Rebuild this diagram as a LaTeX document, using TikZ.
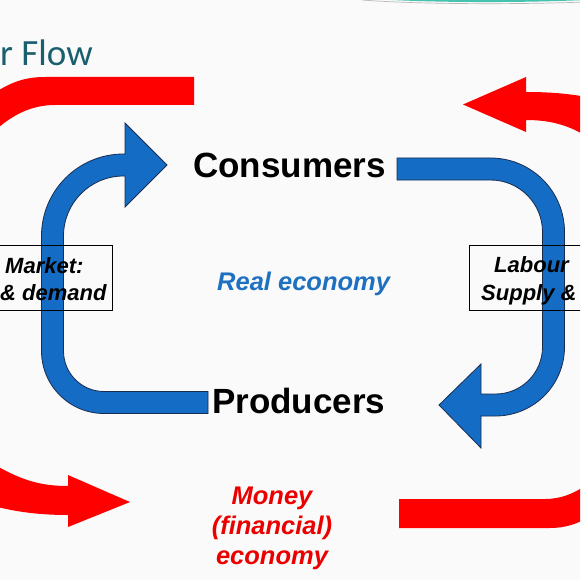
\documentclass[tikz,border=0pt]{standalone}
\usepackage{fontspec}
\setmainfont{Liberation Sans}
\newfontfamily\titlefont{Carlito}
\usepackage{tikz}
\usetikzlibrary{positioning}
\definecolor{flowblue}{RGB}{20,108,196}
\definecolor{flowred}{RGB}{255,0,0}
\definecolor{edgenavy}{RGB}{25,45,80}
\definecolor{titleteal}{RGB}{25,95,110}
\definecolor{textred}{RGB}{235,0,0}
\definecolor{textblue}{RGB}{30,112,192}
\definecolor{paper}{RGB}{250,250,250}
\definecolor{decoteal}{RGB}{70,195,175}

\begin{document}
\begin{tikzpicture}[x=1pt, y=-1pt,
  sector/.style={font=\bfseries\fontsize{35}{42}\selectfont, inner sep=0pt,
                 anchor=base west},
  mkt/.style={draw, line width=0.9pt, minimum width=#1, minimum height=65pt,
              inner sep=0pt},
  mkttext/.style={font=\bfseries\itshape\fontsize{22}{27}\selectfont,
                  inner sep=0pt, anchor=base west},
  econ/.style={font=\bfseries\itshape\fontsize{25.5}{30}\selectfont,
               inner sep=0pt, align=center},
  redflow/.style={fill=flowred},
  blueflow/.style={fill=flowblue, draw=edgenavy, line width=0.8pt, line join=miter},
]
% Slide
\fill[paper] (0,0) rectangle (580,580);
\useasboundingbox (0,0) rectangle (580,580);
\clip (0,0) rectangle (580,580);
\fill[decoteal] (362,-2) .. controls (420,3) and (520,3) .. (585,0) -- (585,-2) -- cycle;
\draw[gray!55, line width=0.7pt] (362,0) .. controls (420,4.5) and (520,4.5) .. (585,2);
\node[font=\titlefont\fontsize{37}{44}\selectfont, text=titleteal,
      anchor=base west, inner sep=0pt] (title) at (0,66) {r Flow};

% Money flow (outer loop)
\fill[redflow] (194,77) -- (45,77) .. controls (25,77) and (10,82) .. (-10,96)
  -- (-10,135) .. controls (10,116) and (30,105) .. (55,105) -- (194,105) -- cycle;
\fill[redflow] (463,104.5) -- (526,77) -- (526,92) .. controls (552,92) and (572,94) .. (592,98)
  -- (592,140) .. controls (572,126) and (552,120) .. (526,120) -- (526,132) -- cycle;
\fill[redflow] (130,502) -- (68,475) -- (68,486) .. controls (40,486) and (20,480) .. (-10,462)
  -- (-10,505) .. controls (15,512) and (40,515) .. (68,515) -- (68,527) -- cycle;
\fill[redflow] (399,499) -- (545,499) .. controls (560,499) and (575,494) .. (590,482)
  -- (590,516) .. controls (578,524) and (565,528) .. (550,528) -- (399,528) -- cycle;

% Real flow (inner loop)
\filldraw[blueflow] (208,391.5) -- (104,391.5) arc[start angle=90, end angle=180, radius=40.5]
  -- (63.5,236) arc[start angle=180, end angle=270, radius=60]
  -- (125,176) -- (125,207) -- (167,165) -- (125,123) -- (125,154)
  -- (123.5,154) arc[start angle=270, end angle=180, radius=82]
  -- (41.5,351) arc[start angle=180, end angle=90, radius=62.5]
  -- (208,413.5) -- cycle;
\filldraw[blueflow] (397,158) -- (490.5,158) arc[start angle=270, end angle=360, radius=74]
  -- (564.5,347) arc[start angle=0, end angle=90, radius=69]
  -- (481,416) -- (481,448) -- (439,405) -- (481,364) -- (481,394)
  -- (495.5,394) arc[start angle=90, end angle=0, radius=47]
  -- (542.5,232) arc[start angle=360, end angle=270, radius=52]
  -- (397,180) -- cycle;

% Sectors
\node[sector] (consumers) at (193,177) {Consumers};
\node[sector] (producers) at (212,413) {Producers};

% Markets
\node[mkt=142pt] (goods) at (41,277.5) {};
\node[mkt=151pt] (labour) at (544.5,277.5) {};
\node[mkttext] (goodsA) at (5,273) {Market:};
\node[mkttext] (goodsB) at (0,300) {\& demand};
\node[mkttext] (labourA) at (494,272) {Labour};
\node[mkttext] (labourB) at (481,300) {Supply \&};

% Economies
\node[econ, text=textblue, anchor=base west] (real) at (217,290) {Real economy};
\node[econ, text=textred, anchor=base] (money) at (272,564) {Money\\(financial)\\economy};
\end{tikzpicture}
\end{document}
